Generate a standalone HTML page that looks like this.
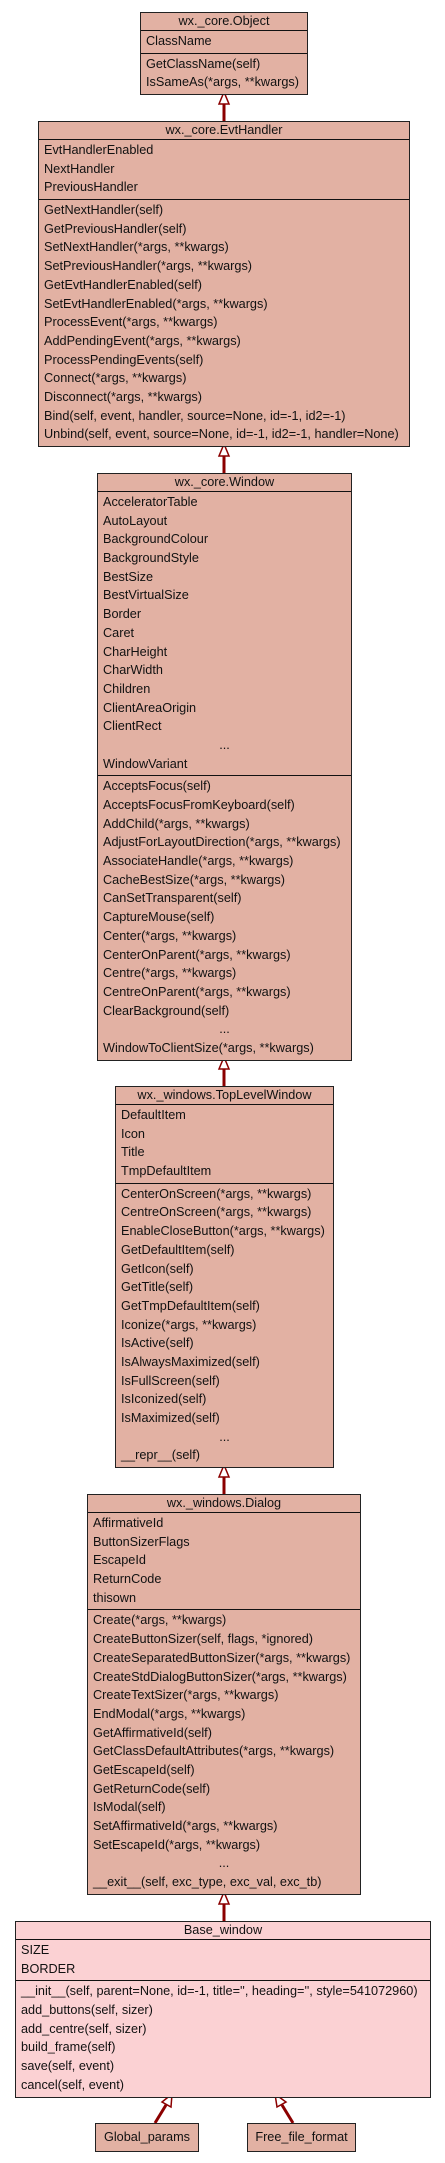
<!DOCTYPE html>
<html><head><meta charset="utf-8"><style>
html,body{margin:0;padding:0;background:#fff;width:445px;height:2163px;overflow:hidden;position:relative;font-family:"Liberation Sans",sans-serif;font-size:12.7px;color:#111}
.b{position:absolute;background:#e2b1a3;border:1.5px solid #222;box-sizing:border-box}
.t{height:17px;line-height:17px;text-align:center;border-bottom:1.5px solid #111}
.s{padding:1px 0 2px 0}
.s+.s{border-top:1.5px solid #111}
.r{height:18.7px;line-height:18.7px;padding-left:5px;white-space:nowrap}
.e{height:18.7px;line-height:18.7px;text-align:center}
.p{background:#fbd1d3}
.n{position:absolute;background:#e2b1a3;border:1.5px solid #222;box-sizing:border-box;height:29px;line-height:26px;text-align:center}
svg{position:absolute;left:0;top:0}
</style></head><body>
<svg width="445" height="2163">
<g stroke="#8b0000" stroke-width="3" fill="#fff">
<line x1="224" y1="104" x2="224" y2="121"/><polygon stroke-width="1.5" points="224,92 219,104 229,104"/>
<line x1="224" y1="456" x2="224" y2="473"/><polygon stroke-width="1.5" points="224,444 219,456 229,456"/>
<line x1="224" y1="1069" x2="224" y2="1086"/><polygon stroke-width="1.5" points="224,1057 219,1069 229,1069"/>
<line x1="224" y1="1477" x2="224" y2="1494"/><polygon stroke-width="1.5" points="224,1465 219,1477 229,1477"/>
<line x1="224" y1="1904" x2="224" y2="1921"/><polygon stroke-width="1.5" points="224,1892 219,1904 229,1904"/>
<line x1="155" y1="2123" x2="166" y2="2105"/><polygon stroke-width="1.5" points="172,2094 162,2102 171,2107"/>
<line x1="293" y1="2123" x2="282" y2="2105"/><polygon stroke-width="1.5" points="275,2094 277,2107 286,2102"/>
</g></svg>

<div class="b" style="left:140px;top:12px;width:168px">
<div class="t">wx._core.Object</div>
<div class="s"><div class="r">ClassName</div></div>
<div class="s"><div class="r">GetClassName(self)</div><div class="r">IsSameAs(*args, **kwargs)</div></div>
</div>

<div class="b" style="left:38px;top:121px;width:372px">
<div class="t">wx._core.EvtHandler</div>
<div class="s"><div class="r">EvtHandlerEnabled</div><div class="r">NextHandler</div><div class="r">PreviousHandler</div></div>
<div class="s"><div class="r">GetNextHandler(self)</div><div class="r">GetPreviousHandler(self)</div><div class="r">SetNextHandler(*args, **kwargs)</div><div class="r">SetPreviousHandler(*args, **kwargs)</div><div class="r">GetEvtHandlerEnabled(self)</div><div class="r">SetEvtHandlerEnabled(*args, **kwargs)</div><div class="r">ProcessEvent(*args, **kwargs)</div><div class="r">AddPendingEvent(*args, **kwargs)</div><div class="r">ProcessPendingEvents(self)</div><div class="r">Connect(*args, **kwargs)</div><div class="r">Disconnect(*args, **kwargs)</div><div class="r">Bind(self, event, handler, source=None, id=-1, id2=-1)</div><div class="r">Unbind(self, event, source=None, id=-1, id2=-1, handler=None)</div></div>
</div>

<div class="b" style="left:97px;top:473px;width:255px">
<div class="t">wx._core.Window</div>
<div class="s"><div class="r">AcceleratorTable</div><div class="r">AutoLayout</div><div class="r">BackgroundColour</div><div class="r">BackgroundStyle</div><div class="r">BestSize</div><div class="r">BestVirtualSize</div><div class="r">Border</div><div class="r">Caret</div><div class="r">CharHeight</div><div class="r">CharWidth</div><div class="r">Children</div><div class="r">ClientAreaOrigin</div><div class="r">ClientRect</div><div class="e">...</div><div class="r">WindowVariant</div></div>
<div class="s"><div class="r">AcceptsFocus(self)</div><div class="r">AcceptsFocusFromKeyboard(self)</div><div class="r">AddChild(*args, **kwargs)</div><div class="r">AdjustForLayoutDirection(*args, **kwargs)</div><div class="r">AssociateHandle(*args, **kwargs)</div><div class="r">CacheBestSize(*args, **kwargs)</div><div class="r">CanSetTransparent(self)</div><div class="r">CaptureMouse(self)</div><div class="r">Center(*args, **kwargs)</div><div class="r">CenterOnParent(*args, **kwargs)</div><div class="r">Centre(*args, **kwargs)</div><div class="r">CentreOnParent(*args, **kwargs)</div><div class="r">ClearBackground(self)</div><div class="e">...</div><div class="r">WindowToClientSize(*args, **kwargs)</div></div>
</div>

<div class="b" style="left:115px;top:1086px;width:219px">
<div class="t">wx._windows.TopLevelWindow</div>
<div class="s"><div class="r">DefaultItem</div><div class="r">Icon</div><div class="r">Title</div><div class="r">TmpDefaultItem</div></div>
<div class="s"><div class="r">CenterOnScreen(*args, **kwargs)</div><div class="r">CentreOnScreen(*args, **kwargs)</div><div class="r">EnableCloseButton(*args, **kwargs)</div><div class="r">GetDefaultItem(self)</div><div class="r">GetIcon(self)</div><div class="r">GetTitle(self)</div><div class="r">GetTmpDefaultItem(self)</div><div class="r">Iconize(*args, **kwargs)</div><div class="r">IsActive(self)</div><div class="r">IsAlwaysMaximized(self)</div><div class="r">IsFullScreen(self)</div><div class="r">IsIconized(self)</div><div class="r">IsMaximized(self)</div><div class="e">...</div><div class="r">__repr__(self)</div></div>
</div>

<div class="b" style="left:87px;top:1494px;width:274px">
<div class="t">wx._windows.Dialog</div>
<div class="s"><div class="r">AffirmativeId</div><div class="r">ButtonSizerFlags</div><div class="r">EscapeId</div><div class="r">ReturnCode</div><div class="r">thisown</div></div>
<div class="s"><div class="r">Create(*args, **kwargs)</div><div class="r">CreateButtonSizer(self, flags, *ignored)</div><div class="r">CreateSeparatedButtonSizer(*args, **kwargs)</div><div class="r">CreateStdDialogButtonSizer(*args, **kwargs)</div><div class="r">CreateTextSizer(*args, **kwargs)</div><div class="r">EndModal(*args, **kwargs)</div><div class="r">GetAffirmativeId(self)</div><div class="r">GetClassDefaultAttributes(*args, **kwargs)</div><div class="r">GetEscapeId(self)</div><div class="r">GetReturnCode(self)</div><div class="r">IsModal(self)</div><div class="r">SetAffirmativeId(*args, **kwargs)</div><div class="r">SetEscapeId(*args, **kwargs)</div><div class="e">...</div><div class="r">__exit__(self, exc_type, exc_val, exc_tb)</div></div>
</div>

<div class="b p" style="left:15px;top:1921px;width:416px">
<div class="t">Base_window</div>
<div class="s"><div class="r">SIZE</div><div class="r">BORDER</div></div>
<div class="s"><div class="r">__init__(self, parent=None, id=-1, title='', heading='', style=541072960)</div><div class="r">add_buttons(self, sizer)</div><div class="r">add_centre(self, sizer)</div><div class="r">build_frame(self)</div><div class="r">save(self, event)</div><div class="r">cancel(self, event)</div></div>
</div>

<div class="n" style="left:95px;top:2123px;width:104px">Global_params</div>
<div class="n" style="left:247px;top:2123px;width:109px">Free_file_format</div>
</body></html>
